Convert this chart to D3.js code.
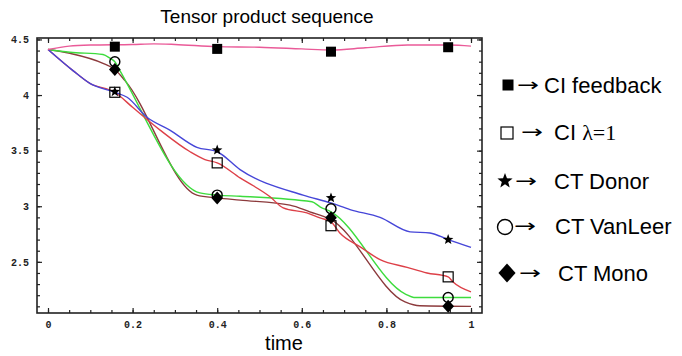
<!DOCTYPE html>
<html><head><meta charset="utf-8">
<script src="https://cdn.jsdelivr.net/npm/d3@7"></script>
<style>body{margin:0;background:#fff}svg{display:block}</style>
</head><body>
<svg id="c" width="682" height="356"></svg>
<script>
// ---- data ----
const title = "Tensor product sequence";
const xLabel = "time";
const xMajorTicks = [0, 0.2, 0.4, 0.6, 0.8, 1];
const yMajorTicks = [2.5, 3, 3.5, 4, 4.5];
const markerTimes = [0.158, 0.4, 0.669, 0.946];

const feedbackLine = [[0,4.41],[0.05,4.44],[0.1,4.45],[0.2,4.455],[0.25,4.46],[0.3,4.455],[0.4,4.435],[0.5,4.43],[0.6,4.415],[0.67,4.405],[0.75,4.425],[0.85,4.45],[0.95,4.45],[1,4.44]];
const lambdaLine = [[0,4.41],[0.059,4.22],[0.099,4.105],[0.158,4.025],[0.2,3.89],[0.265,3.685],[0.336,3.49],[0.371,3.42],[0.4,3.39],[0.454,3.255],[0.525,3.085],[0.556,2.985],[0.612,2.94],[0.643,2.895],[0.669,2.86],[0.69,2.76],[0.738,2.635],[0.785,2.52],[0.849,2.45],[0.896,2.40],[0.946,2.365],[0.957,2.32],[1,2.23]];
const donorLine = [[0,4.41],[0.059,4.22],[0.099,4.105],[0.158,4.025],[0.187,3.98],[0.234,3.80],[0.288,3.685],[0.352,3.53],[0.4,3.49],[0.454,3.33],[0.603,3.10],[0.669,3.03],[0.714,2.97],[0.785,2.90],[0.856,2.77],[0.903,2.76],[0.946,2.70],[1,2.63]];
const vanLeerLine = [[0,4.41],[0.052,4.385],[0.13,4.365],[0.147,4.33],[0.158,4.30],[0.17,4.22],[0.359,3.12],[0.4,3.10],[0.454,3.09],[0.624,3.04],[0.643,2.995],[0.669,2.95],[0.845,2.21],[0.865,2.18],[1,2.18]];
const monoLine = [[0,4.41],[0.052,4.375],[0.13,4.285],[0.158,4.23],[0.182,4.13],[0.352,3.10],[0.4,3.075],[0.454,3.055],[0.572,3.01],[0.619,2.95],[0.669,2.88],[0.844,2.14],[0.879,2.105],[1,2.10]];

const feedbackMarks = [4.435, 4.415, 4.39, 4.43];
const lambdaMarks = [4.025, 3.39, 2.825, 2.365];
const donorMarks = [4.03, 3.505, 3.075, 2.70];
const vanLeerMarks = [4.30, 3.10, 2.977, 2.18];
const monoMarks = [4.23, 3.075, 2.896, 2.10];

const legendNames = ["CI feedback", "CI ", "CT Donor", "CT VanLeer", "CT Mono"];

// ---- drawing ----
const svg = d3.select("#c");
const x = d3.scaleLinear().domain([-0.026, 1.026]).range([37, 482]);
const y = d3.scaleLinear().domain([2.04, 4.513]).range([313, 38]);

svg.append("text").attr("x", 267).attr("y", 23).attr("text-anchor", "middle")
  .style("font-family", "Liberation Sans, Arial, sans-serif").style("font-size", "19px").text(title);

svg.append("text").attr("x", 284).attr("y", 350).attr("text-anchor", "middle")
  .style("font-family", "Liberation Sans, Arial, sans-serif").style("font-size", "20px").text(xLabel);

const xMinor = d3.range(0, 1.0001, 0.05).map(d => +d.toFixed(2));
const yMinor = d3.range(2.1, 4.5001, 0.1).map(d => +d.toFixed(1));

function axisStyle(g) {
  g.select(".domain").remove();
  g.selectAll("line").attr("stroke", "#222").attr("stroke-width", 1.2);
  g.selectAll("text").style("font-family", "Liberation Mono, DejaVu Sans Mono, monospace")
    .style("font-weight", "bold").style("font-size", "10px").attr("fill", "#222");
}
const fmt = d => d3.format("")(d);
// bottom
svg.append("g").attr("transform", "translate(0,313)")
  .call(d3.axisBottom(x).tickValues(xMinor).tickSize(-3).tickFormat(""))
  .call(axisStyle);
svg.append("g").attr("transform", "translate(0,313)")
  .call(d3.axisBottom(x).tickValues(xMajorTicks).tickSize(-5).tickPadding(8).tickFormat(fmt))
  .call(axisStyle);
// top
svg.append("g").attr("transform", "translate(0,38)")
  .call(d3.axisTop(x).tickValues(xMinor).tickSize(-3).tickFormat(""))
  .call(axisStyle);
svg.append("g").attr("transform", "translate(0,38)")
  .call(d3.axisTop(x).tickValues(xMajorTicks).tickSize(-5).tickFormat(""))
  .call(axisStyle);
// left
svg.append("g").attr("transform", "translate(37,0)")
  .call(d3.axisLeft(y).tickValues(yMinor).tickSize(-3).tickFormat(""))
  .call(axisStyle);
svg.append("g").attr("transform", "translate(37,0)")
  .call(d3.axisLeft(y).tickValues(yMajorTicks).tickSize(-5).tickPadding(8).tickFormat(fmt))
  .call(axisStyle);
// right
svg.append("g").attr("transform", "translate(482,0)")
  .call(d3.axisRight(y).tickValues(yMinor).tickSize(-3).tickFormat(""))
  .call(axisStyle);
svg.append("g").attr("transform", "translate(482,0)")
  .call(d3.axisRight(y).tickValues(yMajorTicks).tickSize(-5).tickFormat(""))
  .call(axisStyle);

svg.append("rect").attr("x", 37).attr("y", 38).attr("width", 445).attr("height", 275)
  .attr("fill", "none").attr("stroke", "#222").attr("stroke-width", 1.6);

const line = d3.line().x(d => x(d[0])).y(d => y(d[1])).curve(d3.curveMonotoneX);
const series = [
  [monoLine, "#8c3a3c"],
  [vanLeerLine, "#3ddc3d"],
  [lambdaLine, "#dd4048"],
  [donorLine, "#4646d8"],
  [feedbackLine, "#ea5a98"]
];
series.forEach(([data, col]) => {
  svg.append("path").datum(data).attr("d", line).attr("fill", "none")
    .attr("stroke", col).attr("stroke-width", 1.4).attr("stroke-linejoin", "round");
});

function starPath(r) {
  const pts = [];
  for (let i = 0; i < 10; i++) {
    const a = -Math.PI / 2 + i * Math.PI / 5;
    const rr = i % 2 === 0 ? r : r * 0.42;
    pts.push([rr * Math.cos(a), rr * Math.sin(a)]);
  }
  return "M" + pts.map(p => p[0].toFixed(2) + "," + p[1].toFixed(2)).join("L") + "Z";
}
function drawMarker(g, kind, cx, cy, s) {
  if (kind === "fsq") g.append("rect").attr("x", cx - s/2).attr("y", cy - s/2).attr("width", s).attr("height", s).attr("fill", "#000");
  if (kind === "osq") g.append("rect").attr("x", cx - s/2).attr("y", cy - s/2).attr("width", s).attr("height", s).attr("fill", "#fff").attr("fill-opacity", 0).attr("stroke", "#000").attr("stroke-width", 1.2);
  if (kind === "star") g.append("path").attr("d", starPath(s/2)).attr("transform", `translate(${cx},${cy})`).attr("fill", "#000");
  if (kind === "circ") g.append("circle").attr("cx", cx).attr("cy", cy).attr("r", s/2).attr("fill", "none").attr("stroke", "#000").attr("stroke-width", 1.4);
  if (kind === "dia") g.append("path").attr("d", `M0,${-s/2}L${s*0.45},0L0,${s/2}L${-s*0.45},0Z`).attr("transform", `translate(${cx},${cy})`).attr("fill", "#000");
}
const mk = svg.append("g");
const markerSets = [
  [donorMarks, "star", 11],
  [monoMarks, "dia", 13],
  [vanLeerMarks, "circ", 10],
  [lambdaMarks, "osq", 10],
  [feedbackMarks, "fsq", 10]
];
markerSets.forEach(([vals, kind, s]) => {
  vals.forEach((v, i) => drawMarker(mk, kind, x(markerTimes[i]), y(v), s));
});

// legend
const lg = svg.append("g");
const rows = [
  {kind: "fsq", s: 11, mx: 508, cy: 85, ax: 517, tx: 544, base: 93},
  {kind: "osq", s: 12, mx: 507, cy: 133, ax: 521, tx: 554, base: 140},
  {kind: "star", s: 16, mx: 505, cy: 181, ax: 515, tx: 554, base: 189},
  {kind: "circ", s: 15, mx: 505, cy: 227, ax: 514, tx: 555, base: 234},
  {kind: "dia", s: 19, mx: 507, cy: 273, ax: 519, tx: 558, base: 281}
];
rows.forEach((r, i) => {
  drawMarker(lg, r.kind, r.mx, r.cy, r.s);
  lg.append("text").attr("x", r.ax).attr("y", r.base - 2).text("\u2192")
    .attr("textLength", 22).attr("lengthAdjust", "spacingAndGlyphs")
    .style("font-family", "DejaVu Sans, sans-serif").style("font-size", "18px");
  const t = lg.append("text").attr("x", r.tx).attr("y", r.base)
    .style("font-family", "Liberation Sans, Arial, sans-serif").style("font-size", "22px");
  t.append("tspan").text(legendNames[i]);
  if (i === 1) t.append("tspan").style("font-family", "Liberation Serif, Times New Roman, serif").text("\u03bb=1");
});
</script>
</body></html>
